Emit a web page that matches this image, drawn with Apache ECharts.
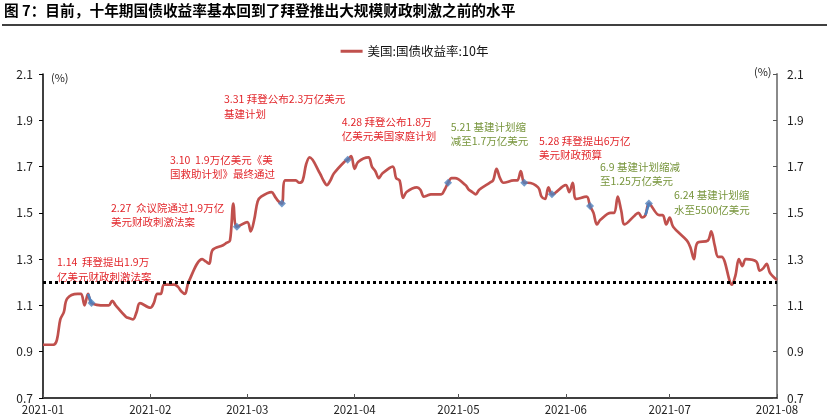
<!DOCTYPE html>
<html><head><meta charset="utf-8">
<script src="https://cdn.jsdelivr.net/npm/echarts@6/dist/echarts.min.js"></script>
<style>html,body{margin:0;padding:0;background:#fff}#c{width:829px;height:419px}</style>
</head><body><div id="c"></div>
<script>
// ---------- data ----------
const seriesName = '美国:国债收益率:10年';
const dates = [
 '2021-01-01','2021-01-04','2021-01-05','2021-01-06','2021-01-07','2021-01-08',
 '2021-01-11','2021-01-12','2021-01-13','2021-01-14','2021-01-15',
 '2021-01-19','2021-01-20','2021-01-21','2021-01-22',
 '2021-01-25','2021-01-26','2021-01-27','2021-01-28','2021-01-29',
 '2021-02-01','2021-02-02','2021-02-03','2021-02-04','2021-02-05',
 '2021-02-08','2021-02-09','2021-02-10','2021-02-11','2021-02-12',
 '2021-02-16','2021-02-17','2021-02-18','2021-02-19',
 '2021-02-22','2021-02-23','2021-02-24','2021-02-25','2021-02-26',
 '2021-03-01','2021-03-02','2021-03-03','2021-03-04','2021-03-05',
 '2021-03-08','2021-03-09','2021-03-10','2021-03-11','2021-03-12',
 '2021-03-15','2021-03-16','2021-03-17','2021-03-18','2021-03-19',
 '2021-03-22','2021-03-23','2021-03-24','2021-03-25','2021-03-26',
 '2021-03-29','2021-03-30','2021-03-31','2021-04-01','2021-04-02',
 '2021-04-05','2021-04-06','2021-04-07','2021-04-08','2021-04-09',
 '2021-04-12','2021-04-13','2021-04-14','2021-04-15','2021-04-16',
 '2021-04-19','2021-04-20','2021-04-21','2021-04-22','2021-04-23',
 '2021-04-26','2021-04-27','2021-04-28','2021-04-29','2021-04-30',
 '2021-05-03','2021-05-04','2021-05-05','2021-05-06','2021-05-07',
 '2021-05-10','2021-05-11','2021-05-12','2021-05-13','2021-05-14',
 '2021-05-17','2021-05-18','2021-05-19','2021-05-20','2021-05-21',
 '2021-05-24','2021-05-25','2021-05-26','2021-05-27','2021-05-28',
 '2021-06-01','2021-06-02','2021-06-03','2021-06-04',
 '2021-06-07','2021-06-08','2021-06-09','2021-06-10','2021-06-11',
 '2021-06-14','2021-06-15','2021-06-16','2021-06-17','2021-06-18',
 '2021-06-21','2021-06-22','2021-06-23','2021-06-24','2021-06-25',
 '2021-06-28','2021-06-29','2021-06-30','2021-07-01','2021-07-02',
 '2021-07-06','2021-07-07','2021-07-08','2021-07-09',
 '2021-07-12','2021-07-13','2021-07-14','2021-07-15','2021-07-16',
 '2021-07-19','2021-07-20','2021-07-21','2021-07-22','2021-07-23',
 '2021-07-26','2021-07-27','2021-07-28','2021-07-29','2021-07-30',
 '2021-08-01'
];
const yields = [
 0.93,0.93,0.95,1.04,1.07,1.13,
 1.15,1.15,1.10,1.15,1.11,
 1.10,1.10,1.12,1.10,
 1.05,1.045,1.04,1.07,1.11,
 1.09,1.11,1.15,1.15,1.19,
 1.19,1.18,1.16,1.15,1.20,
 1.30,1.29,1.28,1.34,
 1.36,1.37,1.38,1.54,1.44,
 1.46,1.42,1.47,1.55,1.57,
 1.59,1.57,1.55,1.54,1.64,
 1.64,1.63,1.64,1.71,1.74,
 1.67,1.64,1.62,1.64,1.67,
 1.72,1.73,1.745,1.69,1.72,
 1.74,1.70,1.68,1.65,1.67,
 1.70,1.65,1.64,1.565,1.59,
 1.61,1.60,1.57,1.575,1.58,
 1.58,1.60,1.63,1.65,1.65,
 1.62,1.60,1.59,1.58,1.60,
 1.63,1.64,1.69,1.65,1.63,
 1.64,1.64,1.68,1.63,1.63,
 1.61,1.57,1.56,1.61,1.58,
 1.62,1.59,1.63,1.56,
 1.57,1.53,1.50,1.45,1.47,
 1.50,1.50,1.57,1.51,1.45,
 1.49,1.50,1.48,1.49,1.54,
 1.49,1.49,1.45,1.48,1.44,
 1.38,1.35,1.30,1.37,
 1.38,1.42,1.36,1.31,1.31,
 1.19,1.23,1.30,1.27,1.30,
 1.29,1.25,1.26,1.28,1.24,
 1.21
];
// event markers (blue diamonds) on the series
const eventDates = ['2021-01-15','2021-02-26','2021-03-11','2021-03-30','2021-04-28','2021-05-20','2021-05-28','2021-06-08','2021-06-25'];
// short blue connector pieces drawn in marker colour
const blueSegments = [['2021-01-14','2021-01-15'],['2021-06-24','2021-06-25']];
const referenceLevel = 1.2;
const monthTicks = ['2021-01-01','2021-02-01','2021-03-01','2021-04-01','2021-05-01','2021-06-01','2021-07-01','2021-08-01'];
const yMin = 0.7, yMax = 2.1, yStep = 0.2;
const titleText = '图 7：目前，十年期国债收益率基本回到了拜登推出大规模财政刺激之前的水平';
const unitText = '(%)';
const annotationTexts = [
 '1.14  拜登提出1.9万\n亿美元财政刺激法案',
 '2.27  众议院通过1.9万亿\n美元财政刺激法案',
 '3.10  1.9万亿美元《美\n国救助计划》最终通过',
 '3.31 拜登公布2.3万亿美元\n基建计划',
 '4.28 拜登公布1.8万\n亿美元美国家庭计划',
 '5.21 基建计划缩\n减至1.7万亿美元',
 '5.28 拜登提出6万亿\n美元财政预算',
 '6.9 基建计划缩减\n至1.25万亿美元',
 '6.24 基建计划缩\n水至5500亿美元'
];
const annotationKinds = ['red','red','red','red','red','green','red','green','green'];

// ---------- build ----------
const RED = '#e2262b', GREEN = '#77953c';
const FONT = '"Noto Sans CJK SC", "Noto Sans", sans-serif';
const toTs = s => { const p = s.split('-').map(Number); return Date.UTC(p[0], p[1]-1, p[2]); };
const lookup = {};
dates.forEach((d,i)=>{ lookup[d] = yields[i]; });
const mainData = dates.map((d,i)=>[toTs(d), yields[i]]);
const markerData = eventDates.map(d=>[toTs(d), lookup[d]]);
const blueData = [];
blueSegments.forEach((seg,k)=>{
  if (k>0) blueData.push([toTs(seg[0]), '-']);
  seg.forEach(d=>blueData.push([toTs(d), lookup[d]]));
});
const tickVals = monthTicks.map(toTs);
const fmtMonth = v => { const d = new Date(v); return d.getUTCFullYear()+'-'+String(d.getUTCMonth()+1).padStart(2,'0'); };

const annPos = [[57,255],[111,200.5],[170,152.7],[224,92],[341.7,114.5],[450.7,119.5],[539,133.5],[600,159.5],[674,187.8]];
const graphics = [
  {type:'text', left:4, top:3, style:{text:titleText, font:'bold 14.7px '+FONT, fill:'#000'}},
  {type:'line', shape:{x1:2,y1:25,x2:827,y2:25}, style:{stroke:'#000', lineWidth:1.5}},
  {type:'text', left:51, top:72, style:{text:unitText, font:'11px '+FONT, fill:'#222'}},
  {type:'text', left:754, top:66, style:{text:unitText, font:'11px '+FONT, fill:'#222'}}
];
annotationTexts.forEach((t,i)=>{
  graphics.push({type:'text', left:annPos[i][0], top:annPos[i][1],
    style:{text:t, font:'10.5px '+FONT, lineHeight:14.5, fill: annotationKinds[i]==='red'?RED:GREEN}});
});

const yAxisBase = {
  type:'value', min:yMin, max:yMax, interval:yStep,
  splitLine:{show:false},
  axisLabel:{formatter:v=>v.toFixed(1), color:'#222', fontSize:12, fontFamily:FONT, margin:10}
};

const option = {
  animation:false,
  backgroundColor:'#fff',
  textStyle:{fontFamily:FONT},
  legend:{
    data:[{name:seriesName, icon:'rect'}],
    top:40, left:'center', itemWidth:22, itemHeight:3, itemGap:4,
    textStyle:{color:'#111', fontSize:12.5, fontFamily:FONT}
  },
  grid:{left:43, right:52, top:74, bottom:21, containLabel:false, outerBoundsMode:'none'},
  xAxis:{
    type:'value', min:tickVals[0], max:tickVals[tickVals.length-1],
    axisLine:{show:true, onZero:false, lineStyle:{color:'#000', width:1.5}},
    axisTick:{show:true, inside:true, length:4, lineStyle:{color:'#555'}, customValues:tickVals},
    axisLabel:{customValues:tickVals, formatter:fmtMonth, color:'#222', fontSize:11.5, fontFamily:FONT, margin:6, hideOverlap:false, showMinLabel:true, showMaxLabel:true},
    splitLine:{show:false}
  },
  yAxis:[
    Object.assign({}, yAxisBase, {position:'left',
      axisLine:{show:true, lineStyle:{color:'#000', width:1.5}},
      axisTick:{show:true, inside:false, length:4, lineStyle:{color:'#000'}}}),
    Object.assign({}, yAxisBase, {position:'right',
      axisLine:{show:true, lineStyle:{color:'#8a8a8a', width:2}},
      axisTick:{show:true, inside:true, length:4, lineStyle:{color:'#555'}}})
  ],
  series:[
    {name:seriesName, type:'line', data:mainData, smooth:0.35, symbol:'none',
     lineStyle:{color:'#c0504d', width:2.7}, itemStyle:{color:'#c0504d'}, z:3,
     markLine:{silent:true, symbol:'none', label:{show:false},
       lineStyle:{color:'#000', type:[3,3], width:3},
       data:[{yAxis:referenceLevel}]}},
    {name:'marker-line', type:'line', data:blueData, symbol:'none', connectNulls:false,
     lineStyle:{color:'#4f81bd', width:2.6}, z:4},
    {name:'events', type:'scatter', data:markerData, symbol:'diamond', symbolSize:8,
     itemStyle:{color:'#4f81bd'}, z:5}
  ],
  graphic:graphics
};
const chart = echarts.init(document.getElementById('c'), null, {renderer:'canvas'});
chart.setOption(option);
</script></body></html>
